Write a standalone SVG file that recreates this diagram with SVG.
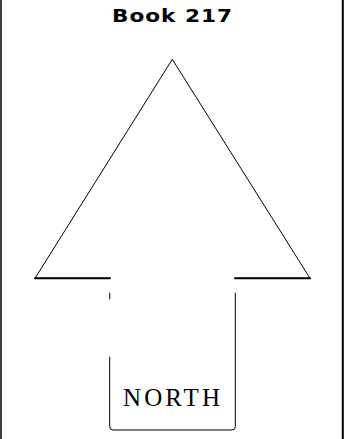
<svg xmlns="http://www.w3.org/2000/svg" width="345" height="439" viewBox="0 0 345 439">
<style>
.ln{fill:none;stroke:#000;stroke-linecap:round;stroke-linejoin:round}
.title{font-family:"DejaVu Sans","Liberation Sans",sans-serif;font-weight:bold;font-size:18px;fill:#000}
.lbl{font-family:"Liberation Serif","Times New Roman",serif;font-size:25px;fill:#000}
</style>
<rect width="345" height="439" fill="#fff"/>
<g id="frame">
<line class="ln" x1="1" y1="0" x2="1" y2="439" stroke-width="1.5"/>
<line class="ln" x1="342.8" y1="0" x2="342.8" y2="439" stroke-width="2"/>
</g>
<g id="title">
<text class="title" transform="translate(112,22) scale(1.2,1)" x="0" y="0" textLength="100" lengthAdjust="spacing">Book 217</text>
</g>
<g id="arrow">
<polyline class="ln" stroke-width="1" points="110,278.3 35,278.3 172.3,59.3 310,278.3 235,278.3"/>
<line class="ln" x1="35" y1="278.3" x2="110" y2="278.3" stroke-width="2"/>
<line class="ln" x1="235" y1="278.3" x2="310" y2="278.3" stroke-width="2"/>
<line class="ln" x1="109.7" y1="293" x2="109.7" y2="299" stroke-width="1"/>
<path class="ln" stroke-width="1" d="M109.7,357 V426.5 Q109.7,430 113,430 H232 Q235.3,430 235.3,426.5 V293"/>
<text class="lbl" x="123" y="405.5" textLength="97" lengthAdjust="spacing">NORTH</text>
</g>
</svg>
